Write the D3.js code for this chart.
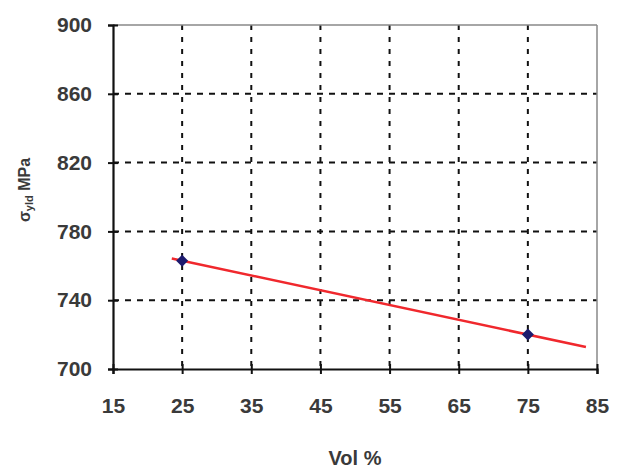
<!DOCTYPE html>
<html>
<head>
<meta charset="utf-8">
<script src="https://d3js.org/d3.v7.min.js"></script>
<style>
  body { margin: 0; background: #fff; }
  text { font-family: "Liberation Sans", Arial, sans-serif; }
</style>
</head>
<body>
<div id="chart"></div>
<script>
// data
var volPct = [25, 75];
var yieldMPa = [763, 720];
var trendX = [23.5, 83.4];   // trendline drawn a bit past the points
var xTicks = [15, 25, 35, 45, 55, 65, 75, 85];
var yTicks = [700, 740, 780, 820, 860, 900];

var W = 625, H = 472;
var margin = {top: 25, right: 28, bottom: 103, left: 113};
var width = W - margin.left - margin.right,
    height = H - margin.top - margin.bottom;

var svg = d3.select("#chart").append("svg")
    .attr("width", W).attr("height", H);
var g = svg.append("g")
    .attr("transform", "translate(" + margin.left + "," + margin.top + ")");

var x = d3.scaleLinear().domain([15, 85]).range([0, width]);
var y = d3.scaleLinear().domain([700, 900]).range([height, 0]);

// dashed grid
g.append("g").selectAll("line")
  .data(xTicks.slice(1, -1))
  .enter().append("line")
    .attr("x1", d => x(d)).attr("x2", d => x(d))
    .attr("y1", 0).attr("y2", height)
    .attr("stroke", "#111").attr("stroke-width", 2)
    .attr("stroke-dasharray", "5,7");
g.append("g").selectAll("line")
  .data(yTicks.slice(1, -1))
  .enter().append("line")
    .attr("x1", 0).attr("x2", width)
    .attr("y1", d => y(d)).attr("y2", d => y(d))
    .attr("stroke", "#111").attr("stroke-width", 2)
    .attr("stroke-dasharray", "6,6");

// top and right frame
g.append("line").attr("x1", 0).attr("x2", width).attr("y1", 0).attr("y2", 0)
  .attr("stroke", "#888").attr("stroke-width", 1.5);
g.append("line").attr("x1", width).attr("x2", width).attr("y1", 0).attr("y2", height)
  .attr("stroke", "#888").attr("stroke-width", 1.5);

// axes
var xAxis = g.append("g")
    .attr("transform", "translate(0," + height + ")")
    .call(d3.axisBottom(x).tickValues(xTicks).tickSize(5).tickPadding(24));
var yAxis = g.append("g")
    .call(d3.axisLeft(y).tickValues(yTicks).tickSize(5).tickPadding(16));

[xAxis, yAxis].forEach(function(a) {
  a.select(".domain").attr("stroke", "#111").attr("stroke-width", 2.2);
  a.selectAll(".tick line").attr("stroke", "#111").attr("stroke-width", 2);
  a.selectAll("text").attr("font-size", 21).attr("fill", "#3a3a3a")
    .attr("font-weight", "bold")
    .attr("font-family", "'Liberation Sans', Arial, sans-serif");
});
// cross ticks
xAxis.selectAll(".tick line").attr("y1", -5).attr("y2", 5);
yAxis.selectAll(".tick line").attr("x1", -5).attr("x2", 5);

// trendline
g.append("line")
  .attr("x1", x(trendX[0]))
  .attr("y1", y(yieldMPa[0] + (trendX[0] - volPct[0]) * (yieldMPa[1] - yieldMPa[0]) / (volPct[1] - volPct[0])))
  .attr("x2", x(trendX[1]))
  .attr("y2", y(yieldMPa[0] + (trendX[1] - volPct[0]) * (yieldMPa[1] - yieldMPa[0]) / (volPct[1] - volPct[0])))
  .attr("stroke", "#f0282d").attr("stroke-width", 2.5);

// markers (square turned 45 degrees)
g.append("g").selectAll("path")
  .data(volPct)
  .enter().append("path")
    .attr("d", d3.symbol().type(d3.symbolSquare).size(72))
    .attr("transform", (d, i) => "translate(" + x(d) + "," + y(yieldMPa[i]) + ") rotate(45)")
    .attr("fill", "#1c1a6e");

// axis titles
svg.append("text")
  .attr("x", 355).attr("y", 465)
  .attr("text-anchor", "middle")
  .attr("font-size", 20).attr("font-weight", "bold").attr("fill", "#3a3a3a")
  .text("Vol %");

var yl = svg.append("text")
  .attr("transform", "translate(30,190) rotate(-90)")
  .attr("text-anchor", "middle")
  .attr("font-size", 16).attr("font-weight", "bold").attr("fill", "#3a3a3a");
yl.append("tspan").text("σ");
yl.append("tspan").attr("font-size", 11).attr("dy", 3).text("yld");
yl.append("tspan").attr("dy", -3).text(" MPa");
</script>
</body>
</html>
